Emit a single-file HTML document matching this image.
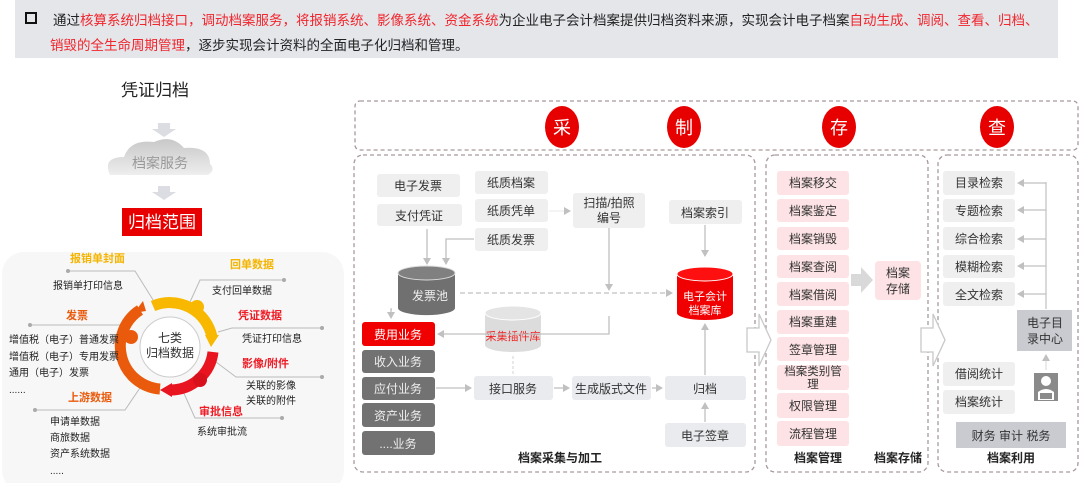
<!DOCTYPE html>
<html><head><meta charset="utf-8"><style>
html,body{margin:0;padding:0;background:#fff;}
body{width:1080px;height:483px;overflow:hidden;position:relative;font-family:"Liberation Sans","Noto Sans CJK SC",sans-serif;}
.hdr{position:absolute;left:15px;top:0;width:1043px;height:58px;background:#e4e6ea;font-size:13.5px;color:#222;}
.hdr .l1{position:absolute;left:38px;top:9px;white-space:nowrap;}
.hdr .l2{position:absolute;left:35px;top:34px;white-space:nowrap;}
.r{color:#f0262d;}
.sq{position:absolute;left:10px;top:12px;width:8px;height:8px;border:2px solid #111;}
svg{position:absolute;left:0;top:0;}
text{font-family:"Liberation Sans","Noto Sans CJK SC",sans-serif;}
</style></head><body>
<div class="hdr"><div class="sq"></div>
<div class="l1">通过<span class="r">核算系统归档接口，调动档案服务，将报销系统、影像系统、资金系统</span>为企业电子会计档案提供归档资料来源，实现会计电子档案<span class="r">自动生成、调阅、查看、归档、</span></div>
<div class="l2"><span class="r">销毁的全生命周期管理</span>，逐步实现会计资料的全面电子化归档和管理。</div>
</div>
<svg width="1080" height="483" viewBox="0 0 1080 483">
<defs>
<marker id="a" markerWidth="8" markerHeight="8" refX="6" refY="4" orient="auto" markerUnits="userSpaceOnUse"><path d="M0,0 L7,4 L0,8 z" fill="#c0c0c0"/></marker>
<linearGradient id="cg" x1="0" y1="0" x2="0" y2="1"><stop offset="0" stop-color="#c8c8c8"/><stop offset="1" stop-color="#eeeeee"/></linearGradient>
</defs>
<!-- left column -->
<text x="155" y="96" font-size="17" text-anchor="middle" fill="#222">凭证归档</text>
<path d="M158,123 h12 v6 h6 l-12,8 l-12,-8 h6z" fill="#dcdde2"/>
<path d="M110,175 q-8,-18 14,-18 q6,-18 30,-15 q18,-8 30,6 q26,-2 26,16 q6,6 -2,11 z" fill="url(#cg)"/>
<text x="160" y="168" font-size="14" text-anchor="middle" fill="#999">档案服务</text>
<path d="M158,186 h12 v6 h6 l-12,8 l-12,-8 h6z" fill="#dcdde2"/>
<rect x="122" y="208" width="80" height="28" fill="#e80000"/>
<text x="162" y="228" font-size="17" text-anchor="middle" fill="#fff">归档范围</text>
<!-- ring panel -->
<rect x="2" y="252" width="342" height="240" rx="22" fill="#f7f7f7"/>
<g stroke="#bbb" stroke-width="1" fill="none">
<path d="M68,271 H135 L155,303"/><path d="M190,302 L200,280 H284"/><path d="M218,332 L232,328 H322"/>
<path d="M216,362 L236,377 H322"/><path d="M182,389 L195,418 H282"/><path d="M30,325 H120"/><path d="M35,410 H125 L144,382"/>
</g>
<g fill="#aaa"><circle cx="68" cy="271" r="2"/><circle cx="284" cy="280" r="2"/><circle cx="322" cy="328" r="2"/><circle cx="322" cy="377" r="2"/><circle cx="282" cy="418" r="2"/><circle cx="30" cy="325" r="2"/><circle cx="35" cy="410" r="2"/></g>
<g fill="none" stroke-width="11">
<path d="M153,306 A43,43 0 0 1 212,337" stroke="#f8b800"/>
<path d="M213,352 A43,43 0 0 1 170,390" stroke="#e8141f"/>
<path d="M160,389 A43,43 0 0 1 140,310" stroke="#ea5a0c"/>
</g>
<path d="M205,335 l14,0 l-8,12z" fill="#f8b800"/>
<path d="M172,383 l0,14 l-12,-7z" fill="#e8141f"/>
<path d="M134,313 l12,-2 l-3,-10z" fill="#ea5a0c"/>
<circle cx="170" cy="347" r="30" fill="#fff" stroke="#ccc"/>
<circle cx="197" cy="307" r="7" fill="#f8b800"/><circle cx="200" cy="380" r="7" fill="#d8101b"/><circle cx="131" cy="337" r="7" fill="#ea5a0c"/>
<text x="170" y="342" font-size="12" text-anchor="middle" fill="#333">七类</text>
<text x="170" y="357" font-size="12" text-anchor="middle" fill="#333">归档数据</text>
<g font-size="11" font-weight="bold">
<text x="70" y="262" fill="#f4b400">报销单封面</text>
<text x="230" y="268" fill="#f4b400">回单数据</text>
<text x="238" y="319" fill="#ee1c25">凭证数据</text>
<text x="242" y="367" fill="#ee1c25">影像/附件</text>
<text x="199" y="415" fill="#ee1c25">审批信息</text>
<text x="66" y="319" fill="#ea5a0c">发票</text>
<text x="68" y="401" fill="#ea5a0c">上游数据</text>
</g>
<g font-size="10" fill="#222">
<text x="53" y="289">报销单打印信息</text><text x="212" y="294">支付回单数据</text><text x="242" y="342">凭证打印信息</text>
<text x="246" y="389">关联的影像</text><text x="246" y="404">关联的附件</text><text x="197" y="435">系统审批流</text>
<text x="9" y="343">增值税（电子）普通发票</text><text x="9" y="360">增值税（电子）专用发票</text><text x="9" y="376">通用（电子）发票</text><text x="9" y="393">......</text>
<text x="50" y="425">申请单数据</text><text x="50" y="441">商旅数据</text><text x="50" y="457">资产系统数据</text><text x="50" y="474">.....</text>
</g>
<!-- top stage -->
<g fill="none" stroke="#a89a9a" stroke-width="1.3" stroke-dasharray="4,3">
<rect x="355" y="101" width="723" height="49" rx="5"/>
<rect x="354" y="155" width="401" height="317" rx="9"/>
<rect x="766" y="155" width="162" height="317" rx="9"/>
<rect x="938" y="155" width="140" height="317" rx="9"/>
</g>
<g fill="#e60000"><ellipse cx="562" cy="127" rx="17" ry="21"/><ellipse cx="684" cy="127" rx="17" ry="21"/><ellipse cx="839" cy="127" rx="17" ry="21"/><ellipse cx="997" cy="127" rx="17" ry="21"/></g>
<g font-size="18" fill="#fff" text-anchor="middle"><text x="562" y="134">采</text><text x="684" y="134">制</text><text x="839" y="134">存</text><text x="997" y="134">查</text></g>
<!-- panel1 boxes -->
<g fill="#efefef">
<rect x="377" y="174" width="83" height="23" rx="3"/><rect x="377" y="204" width="85" height="22" rx="3"/>
<rect x="475" y="171" width="73" height="23" rx="3"/><rect x="475" y="199" width="73" height="23" rx="3"/><rect x="475" y="228" width="73" height="23" rx="3"/>
<rect x="573" y="193" width="72" height="35" rx="3"/><rect x="669" y="200" width="73" height="24" rx="3"/>
</g>
<g fill="#e9ebee">
<rect x="474" y="376" width="79" height="24" rx="3"/><rect x="572" y="376" width="79" height="24" rx="3"/>
<rect x="665" y="376" width="81" height="24" rx="3"/><rect x="665" y="423" width="81" height="24" rx="3"/>
</g>
<g font-size="12" fill="#333" text-anchor="middle">
<text x="418" y="190">电子发票</text><text x="419" y="220">支付凭证</text>
<text x="511" y="187">纸质档案</text><text x="511" y="215">纸质凭单</text><text x="511" y="244">纸质发票</text>
<text x="609" y="207">扫描/拍照</text><text x="609" y="222">编号</text><text x="705" y="217">档案索引</text>
<text x="513" y="393">接口服务</text><text x="611" y="393">生成版式文件</text><text x="705" y="393">归档</text><text x="705" y="440">电子签章</text>
</g>
<!-- cylinders -->
<path d="M398,273 v35 a28,7 0 0 0 57,0 v-35z" fill="#707070"/><ellipse cx="426.5" cy="273" rx="28.5" ry="7" fill="#808080" stroke="#ddd"/>
<text x="430" y="300" font-size="12" fill="#eee" text-anchor="middle">发票池</text>
<path d="M485,313 v32 a28,7 0 0 0 56,0 v-32z" fill="#dcdcdc"/><ellipse cx="513" cy="313" rx="28" ry="7" fill="#e4e4e4" stroke="#fff"/>
<text x="513" y="340" font-size="11" fill="#f02020" text-anchor="middle">采集插件库</text>
<path d="M677,274 v39 a28,7 0 0 0 56,0 v-39z" fill="#f00000"/><ellipse cx="705" cy="274" rx="28" ry="7" fill="#ff1010" stroke="#fff"/>
<text x="705" y="300" font-size="11" fill="#fff" text-anchor="middle">电子会计</text><text x="705" y="314" font-size="11" fill="#fff" text-anchor="middle">档案库</text>
<!-- business boxes -->
<rect x="362" y="322" width="73" height="24" rx="3" fill="#f00000"/>
<g fill="#727272"><rect x="362" y="350" width="73" height="23" rx="3"/><rect x="362" y="377" width="73" height="23" rx="3"/><rect x="362" y="403" width="73" height="24" rx="3"/><rect x="362" y="431" width="73" height="24" rx="3"/></g>
<g font-size="12" fill="#eee" text-anchor="middle"><text x="398" y="339" fill="#fff">费用业务</text><text x="398" y="366">收入业务</text><text x="398" y="393">应付业务</text><text x="398" y="420">资产业务</text><text x="398" y="448">....业务</text></g>
<!-- connectors -->
<g stroke="#c0c0c0" stroke-width="1.3" fill="none">
<path d="M427,229 V264" marker-end="url(#a)"/><path d="M474,239 H446 V264" marker-end="url(#a)"/>
<path d="M609,228 V290" marker-end="url(#a)"/><path d="M705,225 V256" marker-end="url(#a)"/>
<path d="M460,293 H672" stroke-dasharray="5,3" marker-end="url(#a)"/>
<path d="M609,316 V334 H438" marker-end="url(#a)"/>
<path d="M392,309 H391 V318" marker-end="url(#a)"/>
<path d="M513,356 V374" stroke-dasharray="3,2" stroke="#ddd"/>
<path d="M436,388 H471" marker-end="url(#a)"/><path d="M554,388 H569" marker-end="url(#a)"/><path d="M652,388 H662" marker-end="url(#a)"/>
<path d="M705,375 V324" marker-end="url(#a)"/><path d="M705,422 V403" marker-end="url(#a)"/>
<path d="M549,211 H570" stroke="#eee" marker-end="url(#a)"/>
</g>
<text x="560" y="462" font-size="12" font-weight="bold" text-anchor="middle" fill="#222">档案采集与加工</text>
<!-- hollow arrows -->
<path d="M747,328 h12 v-14 l12,26 l-12,26 v-14 h-12z" fill="#fff" stroke="#c8c8c8" stroke-width="1.3"/>
<path d="M921,328 h12 v-14 l12,26 l-12,26 v-14 h-12z" fill="#fff" stroke="#c8c8c8" stroke-width="1.3"/>
<!-- panel2 -->
<g fill="#fde3e5">
<rect x="777" y="171" width="72" height="24" rx="3"/><rect x="777" y="199" width="72" height="23" rx="3"/><rect x="777" y="227" width="72" height="23" rx="3"/><rect x="777" y="255" width="72" height="23" rx="3"/><rect x="777" y="282" width="72" height="24" rx="3"/><rect x="777" y="310" width="72" height="24" rx="3"/><rect x="777" y="337" width="72" height="24" rx="3"/><rect x="777" y="365" width="72" height="25" rx="3"/><rect x="777" y="393" width="72" height="25" rx="3"/><rect x="777" y="421" width="72" height="25" rx="3"/>
<rect x="875" y="261" width="46" height="39" rx="4"/>
</g>
<g font-size="12" fill="#333" text-anchor="middle">
<text x="813" y="187">档案移交</text><text x="813" y="215">档案鉴定</text><text x="813" y="243">档案销毁</text><text x="813" y="271">档案查阅</text><text x="813" y="299">档案借阅</text><text x="813" y="326">档案重建</text><text x="813" y="354">签章管理</text>
<text x="813" y="375" font-size="11.5">档案类别管</text><text x="813" y="388" font-size="11.5">理</text>
<text x="813" y="410">权限管理</text><text x="813" y="438">流程管理</text>
<text x="898" y="277">档案</text><text x="898" y="293">存储</text>
</g>
<path d="M851,274 h10 v-7 l12,13 l-12,13 v-7 h-10z" fill="#d9d9d9"/>
<text x="818" y="462" font-size="12" font-weight="bold" text-anchor="middle" fill="#222">档案管理</text>
<text x="898" y="462" font-size="12" font-weight="bold" text-anchor="middle" fill="#222">档案存储</text>
<!-- panel3 -->
<g fill="#efefef">
<rect x="943" y="171" width="72" height="24" rx="3"/><rect x="943" y="199" width="72" height="23" rx="3"/><rect x="943" y="227" width="72" height="23" rx="3"/><rect x="943" y="255" width="72" height="23" rx="3"/><rect x="943" y="282" width="72" height="24" rx="3"/>
<rect x="943" y="362" width="72" height="24" rx="3"/><rect x="943" y="390" width="72" height="24" rx="3"/>
</g>
<rect x="1017" y="310" width="55" height="41" fill="#c9cbd0"/>
<rect x="956" y="422" width="110" height="26" fill="#c9cbd0"/>
<g stroke="#c0c0c0" stroke-width="1.2" fill="none">
<path d="M1046,309 V182"/><path d="M1046,183 H1018" marker-end="url(#a)"/><path d="M1046,210 H1018" marker-end="url(#a)"/><path d="M1046,239 H1018" marker-end="url(#a)"/><path d="M1046,266 H1018" marker-end="url(#a)"/><path d="M1046,294 H1018" marker-end="url(#a)"/>
<path d="M1046,370 V355" stroke="#ddd" marker-end="url(#a)"/>
</g>
<g font-size="12" fill="#333" text-anchor="middle">
<text x="979" y="187">目录检索</text><text x="979" y="215">专题检索</text><text x="979" y="243">综合检索</text><text x="979" y="271">模糊检索</text><text x="979" y="299">全文检索</text>
<text x="979" y="378">借阅统计</text><text x="979" y="406">档案统计</text>
<text x="1045" y="327">电子目</text><text x="1045" y="343">录中心</text>
<text x="1011" y="440">财务  审计 税务</text>
</g>
<rect x="1034" y="373" width="24" height="28" fill="#8a8a8a"/>
<circle cx="1046" cy="381" r="5" fill="#fff"/><path d="M1038,400 v-8 q8,-6 16,0 v8z" fill="#fff"/><rect x="1040" y="393" width="12" height="6" fill="#8a8a8a"/>
<text x="1011" y="462" font-size="12" font-weight="bold" text-anchor="middle" fill="#222">档案利用</text>
</svg>
</body></html>
